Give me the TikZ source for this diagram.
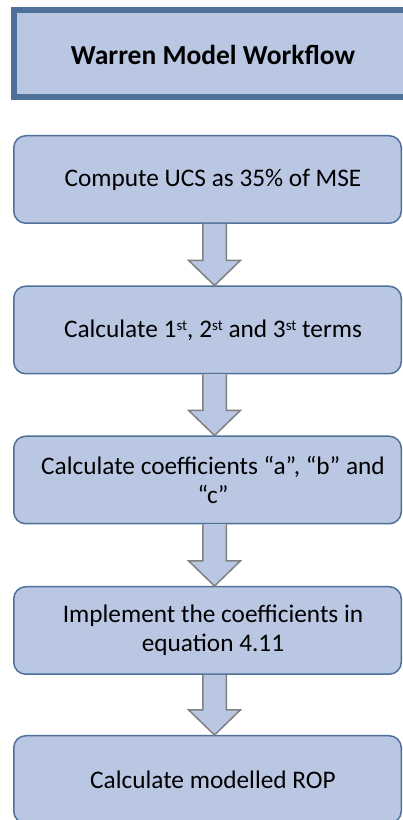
\documentclass[tikz,border=0pt]{standalone}
\usepackage{fontspec}
\setmainfont{Carlito}
\usetikzlibrary{calc}
\definecolor{boxfill}{RGB}{185,199,227}
\definecolor{boxline}{RGB}{79,113,153}
\definecolor{arrowline}{RGB}{128,128,128}
\tikzset{
  stepbox/.style={draw=boxline, fill=boxfill, line width=1.5pt, rounded corners=12pt,
    minimum width=387.5pt, minimum height=87.5pt, inner sep=0pt},
  steptext/.style={font=\fontsize{25.3}{29}\selectfont, align=center, inner sep=0pt},
  titletext/.style={font=\fontsize{27.5}{32}\selectfont\bfseries, inner sep=0pt},
  blockarrow/.style={draw=arrowline, fill=boxfill, line width=1.5pt, line join=miter}
}
\newcommand{\sups}[1]{\raisebox{0.55ex}{\fontsize{15}{15}\selectfont #1}}
% block arrow from the bottom of one step to the top of the next
\newcommand{\flowarrow}[2]{%
  \path[blockarrow] let \p1=(#1.south), \p2=(#2.north) in
    (\x1-4.75pt,\y1) -- (\x1-4.75pt,\y2+25pt) -- (\x1-18.75pt,\y2+25pt) --
    (\x1+7pt,\y2) -- (\x1+32.75pt,\y2+25pt) -- (\x1+18.75pt,\y2+25pt) --
    (\x1+18.75pt,\y1);
}
\begin{document}
\begin{tikzpicture}[x=1pt,y=1pt]
  \useasboundingbox (0,0) rectangle (403,820);
  \clip (0,0) rectangle (403,820);
  \fill[white] (0,0) rectangle (403,820);

  % heading banner
  \draw[boxline, fill=boxfill, line width=6pt] (14,810) rectangle (430,723);
  \node[titletext] (title) at (213,765) {Warren Model Workflow};

  % workflow steps
  \node[stepbox] (s1) at (207.5,640.5) {};
  \node[stepbox] (s2) at (207.5,490) {};
  \node[stepbox] (s3) at (207.5,340) {};
  \node[stepbox] (s4) at (207.5,189.5) {};
  \node[stepbox] (s5) at (207.5,40.5) {};

  \node[steptext] (t1) at ([xshift=5.5pt]s1.center) {Compute UCS as 35\% of MSE};
  \node[steptext] (t2) at ([xshift=5.5pt]s2.center) {Calculate 1\sups{st}, 2\sups{st} and 3\sups{st} terms};
  \node[steptext] (t3) at ([xshift=5.5pt]s3.center) {Calculate coefficients “a”, “b” and\\“c”};
  \node[steptext] (t4) at ([xshift=5.5pt]s4.center) {Implement the coefficients in\\equation 4.11};
  \node[steptext] (t5) at ([xshift=5.5pt]s5.center) {Calculate modelled ROP};

  % connectors
  \flowarrow{s1}{s2}
  \flowarrow{s2}{s3}
  \flowarrow{s3}{s4}
  \flowarrow{s4}{s5}
\end{tikzpicture}
\end{document}
